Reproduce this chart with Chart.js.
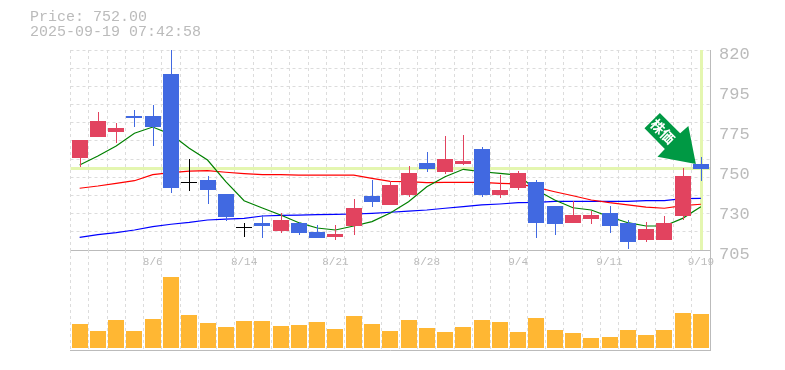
<!DOCTYPE html>
<html><head><meta charset="utf-8">
<style>
html,body{margin:0;padding:0;background:#fff;width:785px;height:370px;overflow:hidden}
canvas{position:absolute;left:0}
#t{position:absolute;left:30px;top:10px;color:#bbb;font:15px/15px "Liberation Mono",monospace;white-space:pre}
</style>
<script src="https://cdn.jsdelivr.net/npm/chart.js@4"></script>
</head><body>
<canvas id="p" width="785" height="270" style="top:0"></canvas>
<canvas id="v" width="785" height="110" style="top:250px"></canvas>
<div id="t">Price: 752.00
2025-09-19 07:42:58</div>
<script>
const categories=['7/31','8/1','8/4','8/5','8/6','8/7','8/8','8/12','8/13','8/14','8/15','8/18','8/19','8/20','8/21','8/22','8/25','8/26','8/27','8/28','8/29','9/1','9/2','9/3','9/4','9/5','9/8','9/9','9/10','9/11','9/12','9/16','9/17','9/18','9/19'];
const shownDates=['8/6','8/14','8/21','8/28','9/4','9/11','9/19'];
const bodyTop=[768.25,779.2,775.15,782,782,806.2,743.9,745.25,737.2,718.3,720.5,722.25,720.5,715.35,714.2,729.15,736.05,742.4,749.3,755,757.3,756.2,763,739.5,749.3,744.1,730.3,725.1,725.1,726.3,720.5,717.1,720.5,747.55,754.45];
const bodyBottom=[757.9,770,772.85,780.9,775.7,740.65,743.35,739.5,724,717.8,718.8,715.9,714.8,711.9,712.5,718.8,732.6,730.9,736.6,751.6,749.85,754.45,736.6,736.6,740.65,720.5,719.95,720.5,722.8,718.8,709.6,710.75,710.75,724.55,751.6];
const highs=[768.25,784.35,778,785.5,788.4,825,757.3,747.55,737.2,720.5,725,726.3,721.1,719.4,719.4,734.3,745.25,744.7,753.3,761.35,770.55,771.1,764.2,748.1,750.4,745.25,730.3,733.2,727.4,730.3,722.25,721.1,724.55,752.15,758.5];
const lows=[752.9,770,766.35,775.7,764.8,737.8,738.9,731.45,721.7,712.5,711.9,714.8,713.6,711.9,710.75,713.6,729.7,730.9,735.5,749.85,748.7,753.9,735.5,734.9,739.5,711.9,713.6,720.5,719.95,714.8,705.6,709.6,710.75,722.25,744.7];
const candleKinds=['r','r','r','b','b','b','k','b','b','k','b','r','b','b','r','r','b','r','r','b','r','r','b','r','r','b','b','r','r','b','b','r','r','r','b'];
const maShort=[753.9,759,764.8,772.1,775.7,771.5,763.5,756.75,744.3,733.3,729.15,725.1,720.7,717.65,716.5,718.8,721.3,726.3,732.8,741.4,747.1,751.4,750,749.1,748.1,739.5,733.75,729.3,728,724.15,720.7,718.8,718.8,723.2,729.9];
const maMid=[740.5,741.8,743.35,744.85,748.3,749.45,750.4,750.6,749.7,748.9,748.3,748.3,748.1,748,748,748,746.2,744.5,744.3,743.7,743.9,743.9,743.9,743.35,743,741,738.5,736.2,733.75,732.2,731,729.7,729,730.5,731.3];
const maLong=[712.3,713.8,714.95,716.5,718.4,719.8,720.9,722.25,722.8,723.2,724.55,724.95,725.1,725.3,725.5,725.7,726.1,726.7,727.4,728,729,729.9,730.9,731.45,732.2,732.4,733,733,733,733,733,733.4,733.4,734.5,734.7];
const volumes=[24,17,28,17,29,71,33,25,21,27,27,22,23,26,19,32,24,17,28,20,16,21,28,26,16,30,18,15,10,11,18,13,18,35,34];
const priceLabels=['820','795','775','750','730','705'];
const priceLabelValues=[820,797,774,751,728,705];
const currentPrice=752;
const arrowText='株価';

const GREY='#bbbbbb',GRID='#dcdcdc',PALE='#e4f6b0';
const LABEL_DROP=2.3;
const kindColor={r:'#e2435f',b:'#4169e1',k:'#000000'};
const pair=(a,b)=>a.map((v,i)=>[b[i],v]);
const colors=candleKinds.map(k=>kindColor[k]);

const snap={id:'snap',beforeDatasetsDraw(c){
  c.data.datasets.forEach((d,i)=>{
    if(d.type==='line')return;
    const m=c.getDatasetMeta(i);if(m.type!=='bar')return;
    m.data.forEach(el=>{
      el.x=Math.round(el.x)+(d.snapHalf?0.5:0);
      el.y=Math.round(el.y);el.base=Math.round(el.base);
      if(el.base===el.y)el.y-=1;
    });
  });
}};
const crosshair={id:'crosshair',beforeDatasetsDraw(c){
  const {ctx,chartArea:a,scales:s}=c;
  const y=Math.round(s.y.getPixelForValue(currentPrice));
  const x=Math.round(s.x.getPixelForValue(categories.length-1))+0.5;
  ctx.save();ctx.strokeStyle=PALE;ctx.lineWidth=3;
  ctx.beginPath();ctx.moveTo(a.left,y+.5);ctx.lineTo(a.right,y+.5);
  ctx.moveTo(x,a.top);ctx.lineTo(x,a.bottom);ctx.stroke();ctx.restore();
}};
const arrow={id:'arrow',afterDatasetsDraw(c){
  const {ctx,scales:s}=c;
  const tx=s.x.getPixelForValue(categories.length-1)-5,ty=s.y.getPixelForValue(754.45);
  const o=[[0,0],[-7.5,-38],[-15.7,-30.7],[-36,-51],[-51.4,-35.7],[-31,-15],[-38.4,-7.3]];
  ctx.save();ctx.translate(tx,ty);ctx.fillStyle='#009944';ctx.beginPath();
  o.forEach((p,i)=>i?ctx.lineTo(p[0],p[1]):ctx.moveTo(p[0],p[1]));ctx.closePath();ctx.fill();
  ctx.translate(-33,-32.5);ctx.rotate(Math.PI/4);ctx.fillStyle='#fff';
  ctx.font='bold 14px "Noto Sans CJK JP"';ctx.textAlign='center';ctx.textBaseline='middle';
  ctx.fillText(arrowText,0,0);ctx.restore();
}};
const fixY=(sc)=>{sc.width=75;sc.paddingTop=0;sc.paddingBottom=0;sc.paddingLeft=0;sc.paddingRight=0;};
const gridCfg={color:GRID,lineWidth:1,drawTicks:false};
const borderCfg={display:true,color:GREY,width:1,dash:[3,3]};

new Chart(document.getElementById('p'),{
  type:'bar',
  data:{labels:categories,datasets:[
    {type:'line',data:maLong,borderColor:'#0000ff',borderWidth:1.2,pointRadius:0,tension:0,order:5},
    {type:'line',data:maMid,borderColor:'#ff0000',borderWidth:1.2,pointRadius:0,tension:0,order:4},
    {type:'line',data:maShort,borderColor:'#008000',borderWidth:1.2,pointRadius:0,tension:0,order:3},
    {data:pair(highs,lows),backgroundColor:colors,barThickness:1,inflateAmount:0,grouped:false,order:2,snapHalf:true},
    {data:pair(bodyTop,bodyBottom),backgroundColor:colors,barThickness:16,inflateAmount:0,grouped:false,order:1}
  ]},
  plugins:[crosshair,snap,arrow],
  options:{responsive:false,animation:false,events:[],
    layout:{padding:{left:70.5,top:50,right:0,bottom:0}},
    plugins:{legend:{display:false},tooltip:{enabled:false}},
    scales:{
      x:{offset:true,grid:{...gridCfg,offset:true},border:borderCfg,
        afterFit(sc){sc.height=20;sc.paddingLeft=0;sc.paddingRight=0;},
        ticks:{autoSkip:false,maxRotation:0,minRotation:0,padding:5,color:GREY,font:{family:'Liberation Mono',size:11},
          callback(v){const l=categories[v];return shownDates.includes(l)?l:'';}}},
      y:{position:'right',min:705,max:820,border:borderCfg,
        grid:{...gridCfg,color:(ctx)=>ctx.tick&&ctx.tick.isGrid?GRID:'rgba(0,0,0,0)'},
        afterBuildTicks(sc){
          const t=[];
          for(let k=0;k<=11;k++)t.push({value:705+k*115/11,isGrid:true});
          priceLabelValues.forEach((v,i)=>t.push({value:v-LABEL_DROP,text:priceLabels[i]}));
          sc.ticks=t;
        },
        afterFit:fixY,
        ticks:{autoSkip:false,padding:9,color:GREY,font:{family:'Liberation Mono',size:17},
          callback(v,i,all){return all[i].text||'';}}}
    }
  }
});

new Chart(document.getElementById('v'),{
  type:'bar',
  data:{labels:categories,datasets:[{data:volumes,backgroundColor:'#ffb733',barThickness:16,inflateAmount:0}]},
  plugins:[snap],
  options:{responsive:false,animation:false,events:[],
    layout:{padding:{left:70.5,top:0,right:0,bottom:10}},
    plugins:{legend:{display:false},tooltip:{enabled:false}},
    scales:{
      x:{offset:true,grid:{...gridCfg,offset:true},border:borderCfg,
        afterFit(sc){sc.height=0;sc.paddingLeft=0;sc.paddingRight=0;},
        ticks:{display:false,autoSkip:false}},
      y:{position:'right',min:-2,max:98,border:borderCfg,grid:{display:false},
        afterFit:fixY,ticks:{display:false}}
    }
  }
});
</script>
</body></html>
